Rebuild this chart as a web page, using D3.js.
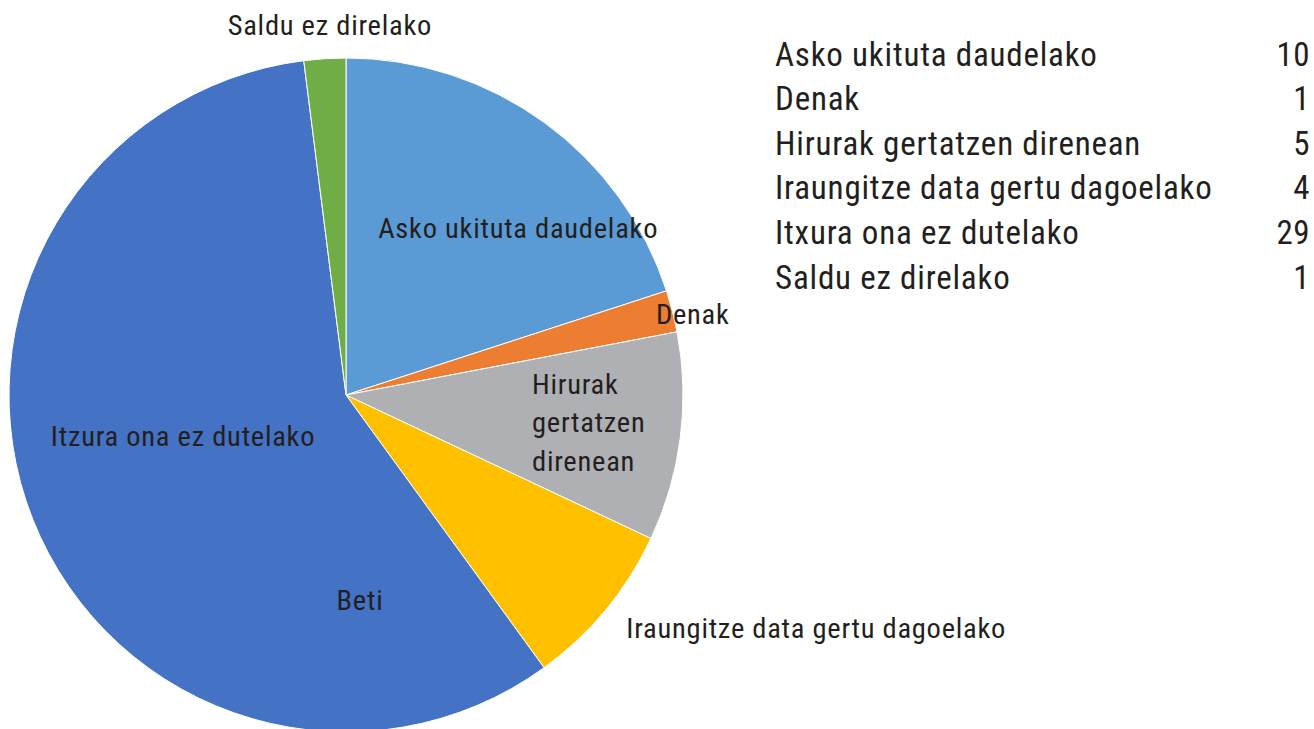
<!DOCTYPE html>
<html>
<head>
<meta charset="utf-8">
<script src="https://cdn.jsdelivr.net/npm/d3@7"></script>
<style>
  html, body { margin: 0; padding: 0; background: #fff; }
  text { font-family: "Liberation Sans Narrow", "Roboto Condensed", "DejaVu Sans Condensed", sans-serif; fill: #231f20; }
</style>
</head>
<body>
<script>
// data
const categories = ['Asko ukituta daudelako', 'Denak', 'Hirurak gertatzen direnean',
  'Iraungitze data gertu dagoelako', 'Itxura ona ez dutelako', 'Saldu ez direlako']
const values = [10, 1, 5, 4, 29, 1]
const colors = ['#5b9bd5', '#ed7d31', '#afb0b3', '#ffc000', '#4472c4', '#70ad47']

// labels drawn on the pie (text, slice index)
const pieLabels = [
  {lines: ['Asko ukituta daudelako'], slice: 0},
  {lines: ['Denak'], slice: 1},
  {lines: ['Hirurak', 'gertatzen', 'direnean'], slice: 2},
  {lines: ['Iraungitze data gertu dagoelako'], slice: 3},
  {lines: ['Itzura ona ez dutelako'], slice: 4},
  {lines: ['Beti'], slice: 4},
  {lines: ['Saldu ez direlako'], slice: 5}
]
// label placement: polar angle (deg from top, clockwise), radius (px), anchor
const labelPlace = [
  [45.85, 240, 'middle'],
  [76.9, 356, 'middle'],
  [98.3, 188, 'start'],
  [116.4, 525, 'middle'],
  [255.9, 168, 'middle'],
  [176.1, 206, 'middle'],
  [-2.5, 370, 'middle']
]

const width = 1314
const height = 729
const cx = 346, cy = 395, R = 337

const svg = d3.select('body')
  .append('svg')
  .attr('width', width)
  .attr('height', height)

const pie = d3.pie().sort(null).value(d => d)
const arcs = pie(values)
const arc = d3.arc().innerRadius(0).outerRadius(R)

const g = svg.append('g').attr('transform', `translate(${cx},${cy})`)

g.selectAll('path')
  .data(arcs)
  .enter()
  .append('path')
  .attr('d', arc)
  .attr('fill', (d, i) => colors[i])
  .attr('stroke', '#fff')
  .attr('stroke-width', 1)

// pie labels
const lineH = 38.5
pieLabels.forEach((lab, i) => {
  const p = labelPlace[i]
  const pt = d3.pointRadial(p[0] * Math.PI / 180, p[1])
  const t = g.append('text')
    .attr('text-anchor', p[2])
    .style('font-size', '28.5px')
    .style('letter-spacing', '0.75px')
  const n = lab.lines.length
  lab.lines.forEach((s, j) => {
    t.append('tspan')
      .attr('x', pt[0])
      .attr('y', pt[1] + (j - (n - 1) / 2) * lineH)
      .attr('dy', '0.35em')
      .text(s)
  })
})

// legend table
const rowY = d3.scalePoint().domain(categories).range([54, 277])
const legend = svg.append('g')

legend.selectAll('text.name')
  .data(categories)
  .enter()
  .append('text')
  .attr('class', 'name')
  .attr('x', 775)
  .attr('y', d => rowY(d))
  .attr('dy', '0.35em')
  .style('font-size', '33px')
  .style('letter-spacing', '0.8px')
  .text(d => d)

legend.selectAll('text.val')
  .data(values)
  .enter()
  .append('text')
  .attr('class', 'val')
  .attr('x', 1310)
  .attr('y', (d, i) => rowY(categories[i]))
  .attr('dy', '0.35em')
  .attr('text-anchor', 'end')
  .style('font-size', '33px')
  .style('letter-spacing', '0.5px')
  .text(d => d)
</script>
</body>
</html>
